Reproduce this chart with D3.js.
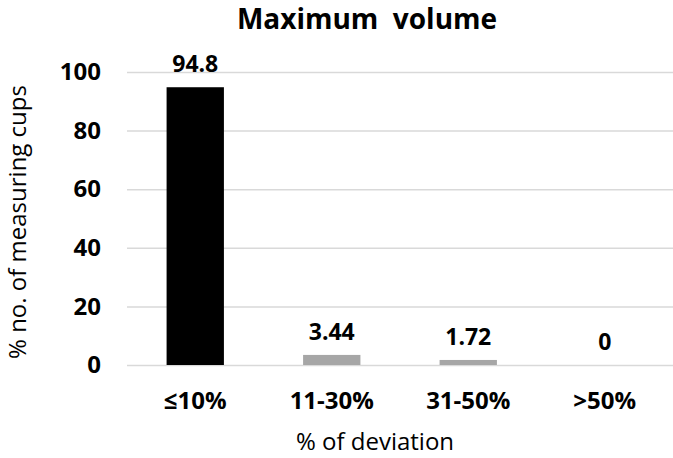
<!DOCTYPE html>
<html>
<head>
<meta charset="utf-8">
<script src="https://cdn.jsdelivr.net/npm/d3@7"></script>
<style>
  body { margin: 0; background: #fff; }
  svg { display: block; }
  text { font-family: "Open Sans", Lato, sans-serif; }
</style>
</head>
<body>
<svg id="chart" width="673" height="458"></svg>
<script>
// chart data
var categories = ["\u226410%", "11-30%", "31-50%", ">50%"];
var values = [94.8, 3.44, 1.72, 0];
var valueLabels = ["94.8", "3.44", "1.72", "0"];
var yTicks = [0, 20, 40, 60, 80, 100];
var barColors = ["#000000", "#a6a6a6", "#a6a6a6", "#a6a6a6"];

var svg = d3.select("#chart");

var x = d3.scaleBand()
  .domain(categories)
  .range([127, 673])
  .paddingInner(0.58)
  .paddingOuter(0.29);

var y = d3.scaleLinear()
  .domain([0, 100])
  .range([365, 72]);

// gridlines
svg.append("g")
  .selectAll("line")
  .data(yTicks)
  .enter()
  .append("line")
  .attr("x1", 127)
  .attr("x2", 673)
  .attr("y1", d => y(d) + 0.5)
  .attr("y2", d => y(d) + 0.5)
  .attr("stroke", "#d9d9d9")
  .attr("stroke-width", 1.5);

// y axis labels
var yAxis = d3.axisLeft(y).tickValues(yTicks).tickSize(0).tickPadding(0);
var yg = svg.append("g")
  .attr("transform", "translate(101,0)")
  .call(yAxis);
yg.select(".domain").remove();
yg.selectAll("text")
  .attr("font-size", 24)
  .attr("font-weight", "bold")
  .attr("fill", "#000")
  .attr("font-family", "'Open Sans', sans-serif");

// bars
svg.append("g")
  .selectAll("rect")
  .data(values)
  .enter()
  .append("rect")
  .attr("x", (d, i) => x(categories[i]))
  .attr("width", x.bandwidth())
  .attr("y", d => y(d))
  .attr("height", d => y(0) - y(d))
  .attr("fill", (d, i) => barColors[i]);

// value labels
svg.append("g")
  .selectAll("text")
  .data(values)
  .enter()
  .append("text")
  .attr("x", (d, i) => x(categories[i]) + x.bandwidth() / 2)
  .attr("y", d => y(d) - 15)
  .attr("text-anchor", "middle")
  .attr("font-size", 23)
  .attr("font-weight", "bold")
  .text((d, i) => valueLabels[i]);

// x axis labels
var xAxis = d3.axisBottom(x).tickSize(0).tickPadding(0);
var xg = svg.append("g")
  .attr("transform", "translate(0,392)")
  .call(xAxis);
xg.select(".domain").remove();
xg.selectAll("text")
  .attr("font-size", 24)
  .attr("font-weight", "bold")
  .attr("fill", "#000")
  .attr("font-family", "'Open Sans', sans-serif");

// title
svg.append("text")
  .attr("x", 367)
  .attr("y", 29)
  .attr("text-anchor", "middle")
  .attr("font-size", 28)
  .attr("font-weight", "bold")
  .attr("xml:space", "preserve")
  .text("Maximum  volume");

// axis titles
svg.append("text")
  .attr("x", 375)
  .attr("y", 450)
  .attr("text-anchor", "middle")
  .attr("font-size", 24)
  .text("% of deviation");

svg.append("text")
  .attr("transform", "translate(26,222) rotate(-90)")
  .attr("text-anchor", "middle")
  .attr("font-size", 24)
  .text("% no. of measuring cups");
</script>
</body>
</html>
